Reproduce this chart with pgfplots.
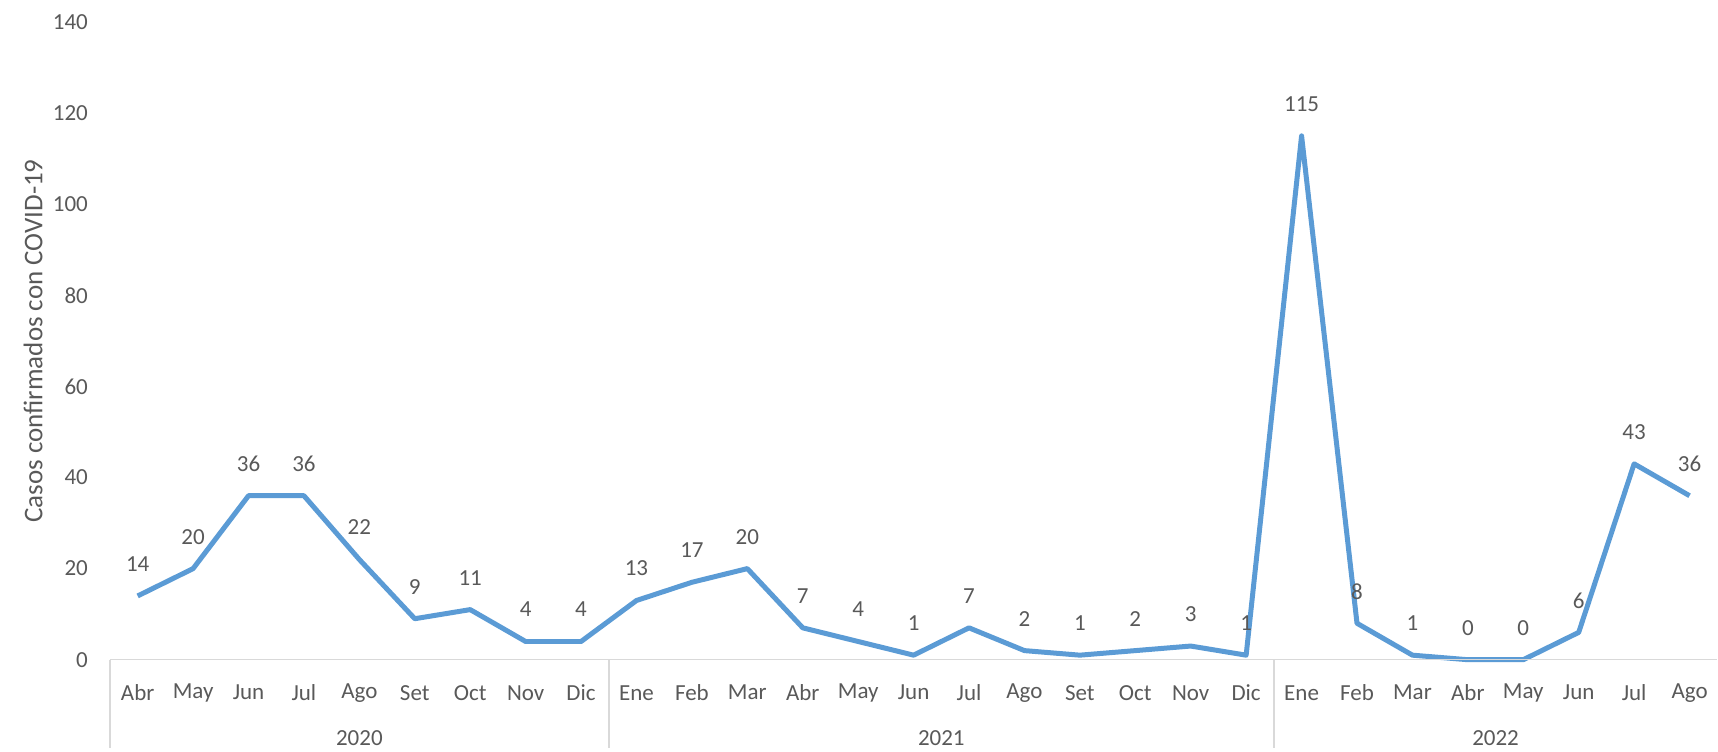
\documentclass[border=0pt]{standalone}
\usepackage{pgfplots}
\pgfplotsset{compat=1.18}
\usepackage{fontspec}
\setmainfont{Carlito}
\definecolor{txt}{HTML}{595959}
\definecolor{ln}{HTML}{5B9BD5}
\definecolor{axc}{HTML}{D9D9D9}
\begin{document}
\begin{tikzpicture}
\begin{axis}[
 at={(0,0)}, anchor=south west,
 width=804pt, height=319pt, scale only axis,
 xmin=-0.5, xmax=28.5, ymin=0, ymax=140,
 axis line style={draw=none},
 major tick length=0pt,
 ytick={0,20,...,140},
 xtick={0,...,28},
 xticklabels={Abr,May,Jun,Jul,Ago,Set,Oct,Nov,Dic,Ene,Feb,Mar,Abr,May,Jun,Jul,Ago,Set,Oct,Nov,Dic,Ene,Feb,Mar,Abr,May,Jun,Jul,Ago},
 tick label style={font=\fontsize{11.5}{13}\selectfont, text=txt},
 /pgf/number format/assume math mode=true,
 xticklabel style={anchor=center, yshift=-16.5pt},
 yticklabel style={anchor=east, xshift=-7.5pt},
 ylabel={Casos confirmados con COVID-19},
 every axis y label/.style={at={([xshift=-38.5pt]axis description cs:0,0.5)}, rotate=90, anchor=center, font=\fontsize{13.5}{15}\selectfont, text=txt},
 clip=false,
 nodes near coords,
 every node near coord/.append style={font=\fontsize{11.5}{13}\selectfont, text=txt, anchor=center, yshift=16pt},
]
\addplot[ln, line width=2.5pt, line join=round, mark=none] coordinates {
(0,14) (1,20) (2,36) (3,36) (4,22) (5,9) (6,11) (7,4) (8,4)
(9,13) (10,17) (11,20) (12,7) (13,4) (14,1) (15,7) (16,2) (17,1) (18,2) (19,3) (20,1)
(21,115) (22,8) (23,1) (24,0) (25,0) (26,6) (27,43) (28,36)
};
\draw[axc, line width=0.75pt] (axis cs:-0.5,0) -- (axis cs:28.5,0);
\draw[axc, line width=0.75pt] (axis cs:-0.5,0) -- ++(0pt,-44pt);
\draw[axc, line width=0.75pt] (axis cs:8.5,0) -- ++(0pt,-44pt);
\draw[axc, line width=0.75pt] (axis cs:20.5,0) -- ++(0pt,-44pt);
\node[font=\fontsize{11.5}{13}\selectfont, text=txt] at ([yshift=-39pt]axis cs:4,0) {2020};
\node[font=\fontsize{11.5}{13}\selectfont, text=txt] at ([yshift=-39pt]axis cs:14.5,0) {2021};
\node[font=\fontsize{11.5}{13}\selectfont, text=txt] at ([yshift=-39pt]axis cs:24.5,0) {2022};
\end{axis}
\useasboundingbox (-55pt,-44pt) rectangle (804pt,330pt);
\end{tikzpicture}
\end{document}
